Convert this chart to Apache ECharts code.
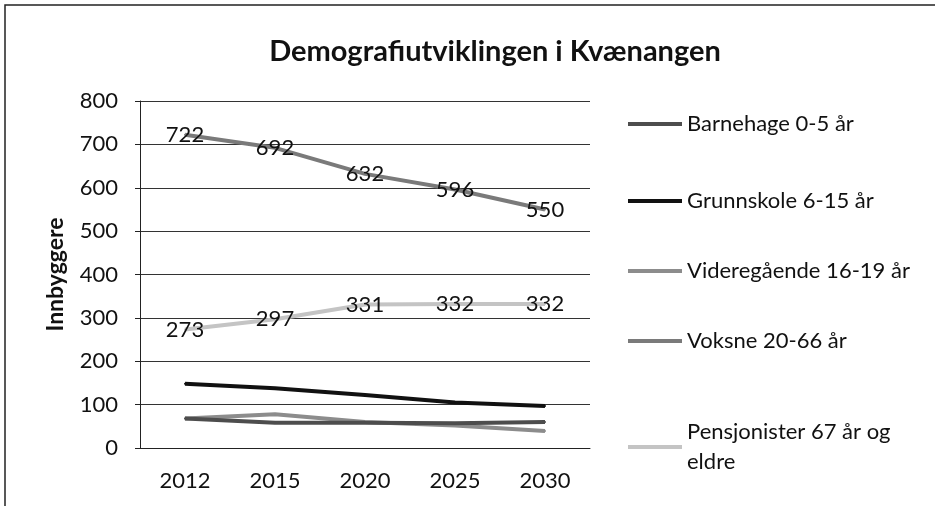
<!DOCTYPE html>
<html><head><meta charset="utf-8">
<script src="https://cdn.jsdelivr.net/npm/echarts@6/dist/echarts.min.js"></script>
<style>html,body{margin:0;padding:0;background:#fff}#c{width:935px;height:506px}</style>
</head><body><div id="c"></div>
<script>
const years = ['2012','2015','2020','2025','2030'];
const barnehage = [68, 58, 58, 57, 60];
const grunnskole = [148, 138, 122, 105, 97];
const videregaende = [68, 78, 60, 52, 39];
const voksne = [722, 692, 632, 596, 550];
const pensjonister = [273, 297, 331, 332, 332];
const names = ['Barnehage 0-5 år','Grunnskole 6-15 år','Videregående 16-19 år','Voksne 20-66 år','Pensjonister 67 år og eldre'];
const colors = ['#4d4d4d','#111111','#8c8c8c','#7a7a7a','#c4c4c4'];
const values = [barnehage, grunnskole, videregaende, voksne, pensjonister];
const showLabels = [false,false,false,true,true];
const legendTops = [106, 183, 253, 323, 397];
const F = 'Lato, "Open Sans", sans-serif';

const chart = echarts.init(document.getElementById('c'));
const series = names.map((n,i)=>({
  name:n, type:'line', data:values[i], symbol:'circle', symbolSize:2, showSymbol:true,
  lineStyle:{color:colors[i], width:4}, itemStyle:{color:colors[i]},
  z: 10 - i,
  label:{show:showLabels[i], position:'inside', color:'#111', fontSize:22, fontFamily:F},
  emphasis:{disabled:true}, animation:false
}));
const legends = names.map((n,i)=>({
  data:[{name:n, icon:'rect'}], orient:'vertical', left:623, top:legendTops[i],
  itemWidth:54, itemHeight:4, itemGap:0, itemStyle:{borderWidth:0},
  textStyle: i===4 ? {fontSize:22, fontFamily:F, color:'#111', lineHeight:30, padding:[30,0,0,0]} : {fontSize:22, fontFamily:F, color:'#111', lineHeight:26},
  formatter: i===4 ? ()=> 'Pensjonister 67 år og\neldre' : undefined,
  selectedMode:false
}));
chart.setOption({
  animation:false,
  backgroundColor:'#fff',
  title:{text:'Demografiutviklingen i Kvænangen', left:490, textAlign:'center', top:32,
    textStyle:{fontSize:29, fontWeight:'bold', fontFamily:F, color:'#111'}},
  legend: legends,
  grid:{left:140, right:345, top:101, bottom:58},
  xAxis:{type:'category', data:years, boundaryGap:true,
    axisLine:{lineStyle:{color:'#222', width:1}}, axisTick:{show:false},
    axisLabel:{fontSize:22, fontFamily:F, color:'#111', margin:22}},
  yAxis:{type:'value', min:0, max:800, interval:100, name:'Innbyggere', nameLocation:'middle', nameGap:73, nameRotate:90,
    nameTextStyle:{fontSize:23, fontWeight:'bold', fontFamily:F, color:'#111'},
    axisLine:{show:true, lineStyle:{color:'#222'}}, axisTick:{show:true, length:5, lineStyle:{color:'#222'}},
    axisLabel:{fontSize:22, fontFamily:F, color:'#111', margin:22},
    splitLine:{lineStyle:{color:'#333', width:1}}},
  graphic:[{type:'rect', shape:{x:5, y:5, width:940, height:510}, style:{fill:'none', stroke:'#222', lineWidth:1.5}, silent:true}],
  series: series
});
</script></body></html>
